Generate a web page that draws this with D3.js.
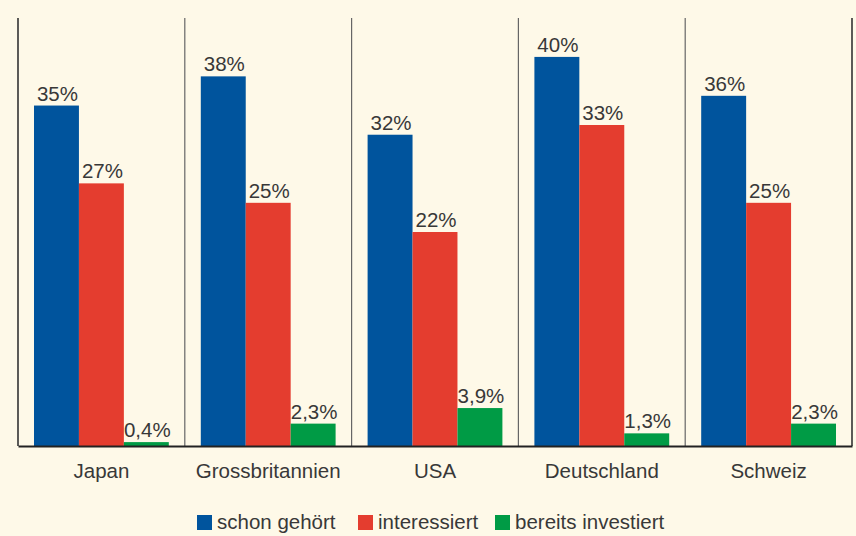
<!DOCTYPE html>
<html>
<head>
<meta charset="utf-8">
<script src="https://cdn.jsdelivr.net/npm/d3@7"></script>
<style>
  body { margin: 0; background: #fef9e8; }
  svg { display: block; font-family: 'Liberation Sans', Arial, sans-serif; }
</style>
</head>
<body>
<div id="chart"></div>
<script>
const categories = ['Japan', 'Grossbritannien', 'USA', 'Deutschland', 'Schweiz'];
const seriesNames = ['schon gehört', 'interessiert', 'bereits investiert'];
const schonGehoert = [35, 38, 32, 40, 36];
const interessiert = [27, 25, 22, 33, 25];
const bereitsInvestiert = [0.4, 2.3, 3.9, 1.3, 2.3];
const seriesColors = ['#00549d', '#e43d2f', '#009b45'];

const width = 856;
const height = 536;
const margin = { top: 18, right: 4, bottom: 90, left: 18 };
const innerW = width - margin.left - margin.right;
const innerH = height - margin.top - margin.bottom;
const fontSize = 20.5;
const textColor = '#383838';

const series = [schonGehoert, interessiert, bereitsInvestiert];
const data = categories.map((c, i) => ({
  cat: c,
  values: series.map((s, j) => ({ key: seriesNames[j], value: s[i], idx: j })),
}));

const svg = d3.select('#chart').append('svg')
  .attr('width', width)
  .attr('height', height);

svg.append('rect')
  .attr('width', width)
  .attr('height', height)
  .attr('fill', '#fef9e8');

const g = svg.append('g').attr('transform', `translate(${margin.left},${margin.top})`);

const x0 = d3.scaleBand()
  .domain(categories)
  .range([0, innerW])
  .paddingInner(0)
  .paddingOuter(0);

const x1 = d3.scaleBand()
  .domain(seriesNames)
  .range([16, x0.bandwidth() - 16])
  .padding(0);

const y = d3.scaleLinear()
  .domain([0, 44])
  .range([innerH, 0]);

const fmt = v => `${String(v).replace('.', ',')}%`;

// band separators
g.selectAll('.sep')
  .data(d3.range(categories.length + 1))
  .enter()
  .append('line')
  .attr('class', 'sep')
  .attr('x1', d => d * x0.bandwidth())
  .attr('x2', d => d * x0.bandwidth())
  .attr('y1', 0)
  .attr('y2', innerH)
  .attr('stroke', (d, i) => ((i === 0 || i === categories.length) ? '#333' : '#666'))
  .attr('stroke-width', (d, i) => ((i === 0 || i === categories.length) ? 1.6 : 1.2));

const groups = g.selectAll('.grp')
  .data(data)
  .enter()
  .append('g')
  .attr('class', 'grp')
  .attr('transform', d => `translate(${x0(d.cat)},0)`);

groups.selectAll('rect')
  .data(d => d.values)
  .enter()
  .append('rect')
  .attr('x', d => x1(d.key))
  .attr('y', d => y(d.value))
  .attr('width', x1.bandwidth())
  .attr('height', d => innerH - y(d.value))
  .attr('fill', d => seriesColors[d.idx]);

groups.selectAll('.val')
  .data(d => d.values)
  .enter()
  .append('text')
  .attr('class', 'val')
  .attr('x', d => x1(d.key) + x1.bandwidth() / 2 + 1)
  .attr('y', d => y(d.value) - 5)
  .attr('text-anchor', 'middle')
  .attr('font-size', fontSize)
  .attr('fill', textColor)
  .text(d => fmt(d.value));

// x axis
const xAxis = d3.axisBottom(x0).tickSize(0).tickPadding(17);
const ax = g.append('g')
  .attr('transform', `translate(0,${innerH})`)
  .call(xAxis);
ax.select('.domain').attr('stroke', '#222').attr('stroke-width', 1.8);
ax.selectAll('text')
  .attr('font-size', fontSize)
  .attr('fill', textColor)
  .attr('font-family', "'Liberation Sans', Arial, sans-serif");

// legend
const legendX = [197, 358, 495];
const legend = svg.append('g').attr('transform', 'translate(0,515)');
seriesNames.forEach((name, i) => {
  legend.append('rect')
    .attr('x', legendX[i])
    .attr('y', 0)
    .attr('width', 15)
    .attr('height', 15)
    .attr('fill', seriesColors[i]);
  legend.append('text')
    .attr('x', legendX[i] + 20)
    .attr('y', 14)
    .attr('font-size', fontSize)
    .attr('fill', textColor)
    .text(name);
});
</script>
</body>
</html>
